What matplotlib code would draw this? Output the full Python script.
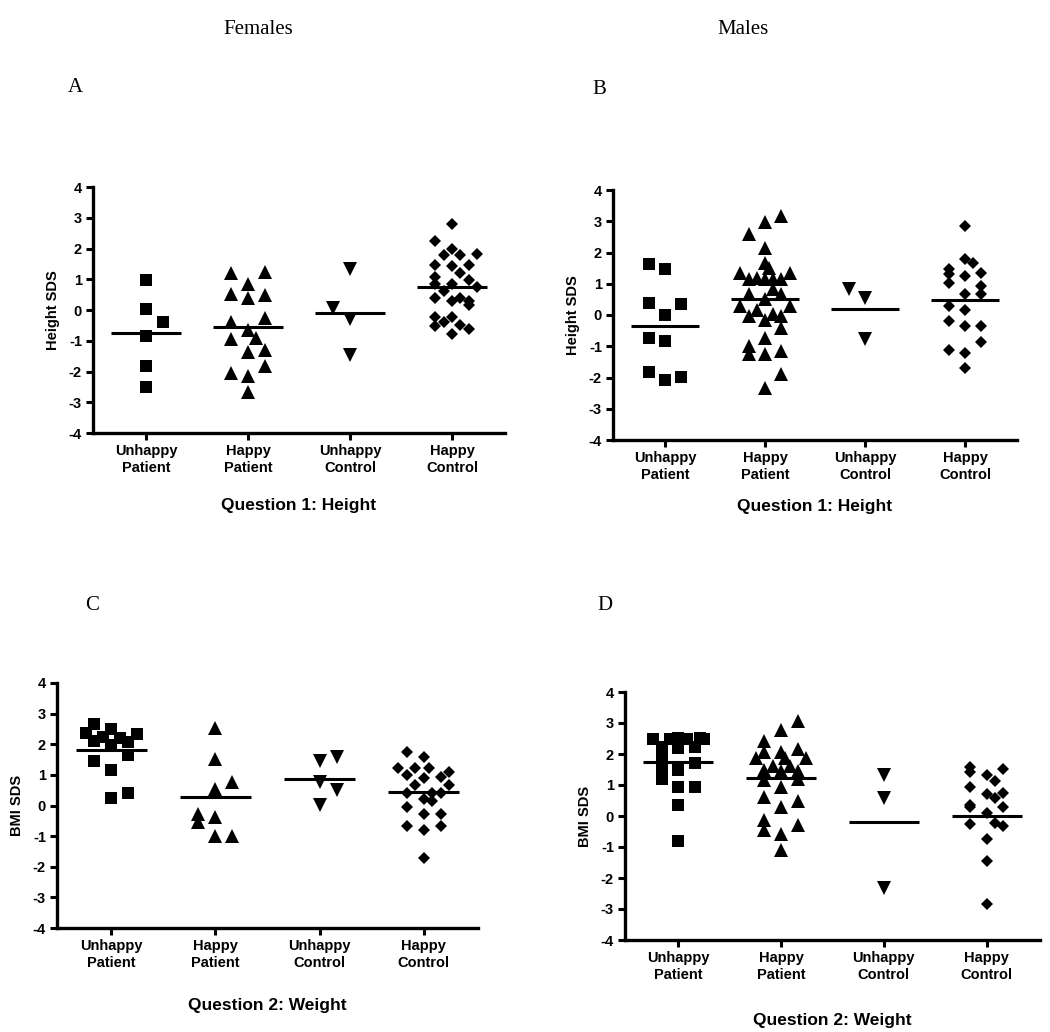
import matplotlib.pyplot as plt
import numpy as np

plt.rcParams['font.family'] = ['Liberation Sans', 'DejaVu Sans']
plt.rcParams['axes.unicode_minus'] = False

groups = ['Unhappy\nPatient', 'Happy\nPatient', 'Unhappy\nControl', 'Happy\nControl']
markers = ['s', '^', 'v', 'D']
marker_sizes = [8, 10, 9.5, 6.4]

# Panel A: females, height SDS (values, then column slot of each point)
a_up = [0.97, 0.02, -0.38, -0.84, -1.81, -2.52]
a_up_col = [0, 0, 2, 0, 0, 0]
a_hp = [1.21, 1.24, 0.86, 0.52, 0.38, 0.49, -0.25, -0.38, -0.65, -0.94, -0.90,
        -1.35, -1.30, -1.81, -2.05, -2.16, -2.67]
a_hp_col = [-2, 2, 0, -2, 0, 2, 2, -2, 0, -2, 1, 0, 2, 2, -2, 0, 0]
a_uc = [1.32, 0.05, -0.29, -1.46]
a_uc_col = [0, -2, 0, 0]
a_hc = [2.81, 2.25, 2.0, 1.78, 1.78, 1.82, 1.46, 1.43, 1.46, 1.19, 1.08, 0.97, 0.86,
        0.86, 0.74, 0.63, 0.40, 0.29, 0.40, 0.29, 0.16, -0.22, -0.22, -0.38, -0.51,
        -0.49, -0.62, -0.78]
a_hc_col = [0, -2, 0, -1, 1, 3, -2, 0, 2, 1, -2, 2, -2, 0, 3, -1, -2, 0, 1, 2, 2,
            -2, 0, -1, -2, 1, 2, 0]
a_means = [-0.76, -0.55, -0.11, 0.76]

# Panel B: males, height SDS
b_up = [1.64, 1.48, 0.39, 0.34, 0.0, -0.73, -0.83, -1.81, -2.09, -1.99]
b_up_col = [-2, 0, -2, 2, 0, -2, 0, -2, 0, 2]
b_hp = [3.17, 2.98, 2.58, 2.16, 1.68, 1.52, 1.36, 1.36, 1.14, 1.17, 1.14, 1.14, 1.14,
        0.82, 0.68, 0.66, 0.50, 0.29, 0.29, 0.15, -0.03, 0.02, -0.03, -0.17, -0.41,
        -0.75, -0.99, -1.26, -1.26, -1.15, -1.88, -2.33]
b_hp_col = [2, 0, -2, 0, 0, 0.5, -3, 3, -2, -1, 0, 1, 2, 1, -2, 2, 0, -3, 3, -1,
            -2, 1, 2, 0, 2, 0, -2, -2, 0, 2, 2, 0]
b_uc = [0.82, 0.55, -0.76]
b_uc_col = [-2, 0, 0]
b_hc = [2.85, 1.80, 1.68, 1.48, 1.30, 1.04, 1.25, 1.36, 0.93, 0.66, 0.66, 0.29, 0.15,
        -0.19, -0.35, -0.35, -0.86, -1.13, -1.21, -1.69]
b_hc_col = [0, 0, 1, -2, -2, -2, 0, 2, 2, 0, 2, -2, 0, -2, 0, 2, 2, -2, 0, 0]
b_means = [-0.35, 0.51, 0.18, 0.48]

# Panel C: females, BMI SDS
c_up = [2.66, 2.36, 2.49, 2.25, 2.22, 2.33, 2.06, 2.11, 1.98, 1.66, 1.46, 1.16, 0.41, 0.25]
c_up_col = [-2, -3, 0, -1, 1, 3, 2, -2, 0, 2, -2, 0, 2, 0]
c_hp = [2.53, 1.52, 0.76, 0.54, -0.27, -0.54, -0.38, -0.98, -0.98]
c_hp_col = [0, 0, 2, 0, -2, -2, 0, 0, 2]
c_uc = [1.46, 1.57, 0.76, 0.52, 0.03]
c_uc_col = [0, 2, 0, 2, 0]
c_hc = [1.76, 1.57, 1.23, 1.23, 1.23, 0.98, 0.90, 0.94, 1.11, 0.68, 0.68, 0.40, 0.40,
        0.40, 0.22, 0.14, -0.05, -0.29, -0.27, -0.68, -0.81, -0.68, -1.70]
c_hc_col = [-2, 0, -3, -1, 0.6, -2, 0, 2, 3, -1, 3, -2, 1, 2, 0, 1, -2, 0, 2, -2, 0, 2, 0]
c_means = [1.82, 0.27, 0.87, 0.43]

# Panel D: males, BMI SDS
d_up = [2.47, 2.23, 2.47, 2.53, 2.47, 2.53, 2.47, 2.18, 2.21, 1.91, 1.59, 1.72, 1.48,
        1.18, 0.92, 0.94, 0.35, -0.80]
d_up_col = [-3, -2, -1, 0, 1, 2.6, 3, 0, 2, -2, -2, 2, 0, -2, 0, 2, 0, 0]
d_hp = [3.07, 2.79, 2.42, 2.15, 2.07, 2.07, 1.86, 1.86, 1.86, 1.61, 1.50, 1.61, 1.46,
        1.46, 1.16, 1.18, 0.94, 0.62, 0.49, 0.30, -0.13, -0.45, -0.29, -0.58, -1.09]
d_hp_col = [2, 0, -2, 2, -2, 0, -3, 3, 0.5, -1, -2, 1, 0, 2, -2, 2, 0, -2, 2, 0,
            -2, -2, 2, 0, 0]
d_uc = [1.32, 0.57, -2.33]
d_uc_col = [0, 0, 0]
d_hc = [1.57, 1.43, 1.53, 1.32, 1.14, 0.94, 0.71, 0.75, 0.57, 0.35, 0.28, 0.30, 0.09,
        -0.27, -0.24, -0.32, -0.75, -1.44, -2.83]
d_hc_col = [-2, -2, 2, 0, 1, -2, 0, 2, 1, -2, -2, 2, 0, -2, 1, 2, 0, 0, 0]
d_means = [1.75, 1.22, -0.18, 0.0]

W, H = 1050, 1032
fig = plt.figure(figsize=(W / 100, H / 100), dpi=100)


def px_axes(left, top, right, bottom):
    return fig.add_axes([left / W, 1 - bottom / H, (right - left) / W, (bottom - top) / H])


def draw_panel(ax, vals, cols, means, ylabel, xlabel, xpad):
    step = 0.082
    for i, (v, c) in enumerate(zip(vals, cols)):
        x = i + step * np.array(c)
        ax.plot(x, v, linestyle='none', marker=markers[i], markersize=marker_sizes[i],
                color='black', markeredgewidth=0)
        ax.plot([i - 0.34, i + 0.34], [means[i], means[i]], color='black', lw=2.2,
                solid_capstyle='butt')
    ax.set_xlim(-0.52, 3.52)
    ax.set_ylim(-4, 4)
    ax.set_yticks(range(-4, 5))
    ax.set_xticks(range(4))
    ax.set_xticklabels(groups, fontsize=10.5, fontweight='bold', linespacing=1.3)
    for lab in ax.get_yticklabels():
        lab.set_fontsize(10.5)
        lab.set_fontweight('bold')
    for s in ['top', 'right']:
        ax.spines[s].set_visible(False)
    for s in ['left', 'bottom']:
        ax.spines[s].set_linewidth(2.4)
    ax.tick_params(width=2.2, length=5, pad=3)
    ax.set_ylabel(ylabel, fontsize=10.5, fontweight='bold', labelpad=6)
    ax.set_xlabel(xlabel, fontsize=12.5, fontweight='bold', labelpad=xpad)


ax_a = px_axes(93, 187, 505, 433)
draw_panel(ax_a, [a_up, a_hp, a_uc, a_hc], [a_up_col, a_hp_col, a_uc_col, a_hc_col],
           a_means, 'Height SDS', 'Question 1: Height', 16)
ax_b = px_axes(613, 190, 1017, 440)
draw_panel(ax_b, [b_up, b_hp, b_uc, b_hc], [b_up_col, b_hp_col, b_uc_col, b_hc_col],
           b_means, 'Height SDS', 'Question 1: Height', 12)
ax_c = px_axes(57, 683, 478, 928)
draw_panel(ax_c, [c_up, c_hp, c_uc, c_hc], [c_up_col, c_hp_col, c_uc_col, c_hc_col],
           c_means, 'BMI SDS', 'Question 2: Weight', 20)
ax_d = px_axes(625, 692, 1040, 940)
draw_panel(ax_d, [d_up, d_hp, d_uc, d_hc], [d_up_col, d_hp_col, d_uc_col, d_hc_col],
           d_means, 'BMI SDS', 'Question 2: Weight', 22)

serif = {'family': 'Liberation Serif', 'size': 15}
fig.text(258 / W, 1 - 30 / H, 'Females', ha='center', va='center', fontdict=serif)
fig.text(743 / W, 1 - 30 / H, 'Males', ha='center', va='center', fontdict=serif)
fig.text(75 / W, 1 - 88 / H, 'A', ha='center', va='center', fontdict=serif)
fig.text(599 / W, 1 - 90 / H, 'B', ha='center', va='center', fontdict=serif)
fig.text(92 / W, 1 - 605 / H, 'C', ha='center', va='center', fontdict=serif)
fig.text(605 / W, 1 - 605 / H, 'D', ha='center', va='center', fontdict=serif)

fig.savefig('out.png', dpi=100)
